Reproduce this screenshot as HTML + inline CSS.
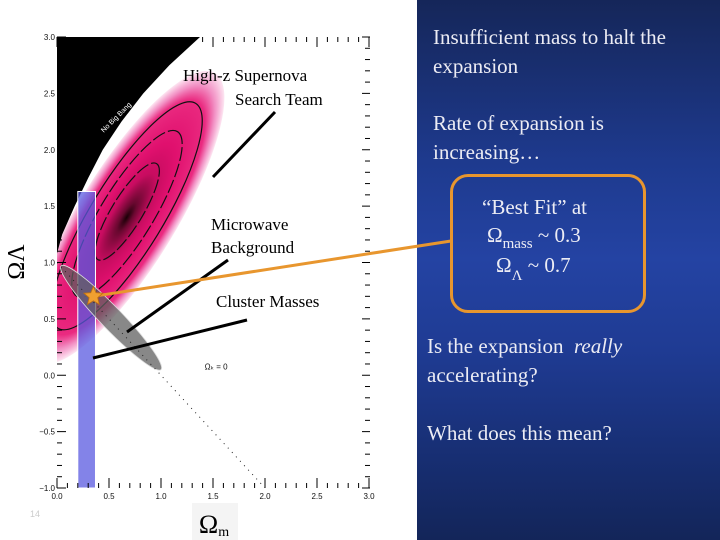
<!DOCTYPE html>
<html><head><meta charset="utf-8"><style>
html,body{margin:0;padding:0;background:#fff;}
#root{position:relative;width:720px;height:540px;overflow:hidden;background:#fff;font-family:"Liberation Serif",serif;}
#panel{position:absolute;left:417px;top:0;width:303px;height:540px;background:linear-gradient(180deg,#152659 0%,#1e3a8e 30%,#2443a3 48%,#1f3b93 65%,#172e72 85%,#132559 100%);}
.t{position:absolute;color:#ececf4;font-size:21px;line-height:29px;white-space:nowrap;}
#box{position:absolute;left:450px;top:174px;width:190px;height:133px;border:3px solid #e8962e;border-radius:18px;}
.bt{position:absolute;color:#ececf4;font-size:21px;white-space:nowrap;}
</style></head><body>
<div id="root">
<div id="panel"></div>
<svg id="chart" width="720" height="540" style="position:absolute;left:0;top:0">
<defs>
<radialGradient id="sn" cx="0.5" cy="0.5" r="0.5">
<stop offset="0" stop-color="#1a0006"/>
<stop offset="0.1" stop-color="#6a0830"/>
<stop offset="0.3" stop-color="#c80c60"/>
<stop offset="0.5" stop-color="#e0106e"/>
<stop offset="0.8" stop-color="#ea2a80"/>
<stop offset="0.9" stop-color="#f290c4"/>
<stop offset="1" stop-color="#fde6f2"/>
</radialGradient>
<clipPath id="plotclip"><rect x="57" y="37" width="312" height="451"/></clipPath>
</defs>
<g id="g-plot" clip-path="url(#plotclip)"></g>
<g id="g-axes"></g>
<g id="g-over"></g>
</svg>
<div class="t" style="left:433px;top:23px">Insufficient mass to halt the<br>expansion</div>
<div class="t" style="left:433px;top:109px">Rate of expansion is<br>increasing…</div>
<div id="box"></div>
<div class="bt" style="left:482px;top:195px">“Best Fit” at</div>
<div class="bt" style="left:487px;top:223px">Ω<span style="font-size:15px;position:relative;top:6px">mass</span> ~ 0.3</div>
<div class="bt" style="left:496px;top:253px">Ω<span style="font-size:15px;position:relative;top:8px">Λ</span> ~ 0.7</div>
<div class="t" style="left:427px;top:332px">Is the expansion &nbsp;<i>really</i><br>accelerating?</div>
<div class="t" style="left:427px;top:419px">What does this mean?</div>
</div>
<script>
const xTicks=[0,0.5,1.0,1.5,2.0,2.5,3.0];
const xTickLabels=["0.0","0.5","1.0","1.5","2.0","2.5","3.0"];
const yTicks=[-1,-0.5,0,0.5,1,1.5,2,2.5,3];
const yTickLabels=["\u22121.0","\u22120.5","0.0","0.5","1.0","1.5","2.0","2.5","3.0"];
const blackBoundaryOm=[0,0.05,0.17,0.3,0.44,0.62,0.83,1.08,1.375];
const blackBoundaryOl=[1.08,1.25,1.5,1.75,2.0,2.25,2.5,2.75,3.0];
const snCenter=[0.67,1.40];
const snEnds=[[-0.18,0.12],[1.52,2.68]];
const snHalfWidth=[0.47];
const contourScales=[0.35,0.6,0.82];
const cmbEnds=[[0.04,0.97],[1.0,0.05]];
const clusterOm=[0.2,0.37];
const clusterOl=[-1.0,1.63];
const bestFit=[0.35,0.7];
const flatLineOm=[0,2.0];
const flatLineOl=[1,-1];

const X=v=>57+v*104, Y=v=>37+(3-v)*112.75;
const NS='http://www.w3.org/2000/svg';
const SANS='font-family:"Liberation Sans",sans-serif';
const SERIF='font-family:"Liberation Serif",serif';
function mk(tag,attrs,parent){const e=document.createElementNS(NS,tag);for(const k in attrs)e.setAttribute(k,attrs[k]);parent.appendChild(e);return e;}
const gp=document.getElementById('g-plot'),ga=document.getElementById('g-axes'),go=document.getElementById('g-over');

const ex1=X(snEnds[0][0]),ey1=Y(snEnds[0][1]),ex2=X(snEnds[1][0]),ey2=Y(snEnds[1][1]);
const cx=X(snCenter[0]),cy=Y(snCenter[1]);
const ang=Math.atan2(ey2-ey1,ex2-ex1)*180/Math.PI;
const rx=Math.hypot(ex2-ex1,ey2-ey1)/2, ry=snHalfWidth[0]*104;
const sn=mk('ellipse',{cx:cx,cy:cy,rx:rx,ry:ry,fill:'url(#sn)',transform:`rotate(${ang} ${cx} ${cy})`},gp);


contourScales.forEach(s=>{
  const c=mk('ellipse',{cx:cx+(1-s)*8,cy:cy-(1-s)*4,rx:rx*s*0.95,ry:ry*s*0.9,fill:'none',stroke:'#111','stroke-width':1.2,'stroke-dasharray':s>0.7?'none':'14 3',transform:`rotate(${ang} ${cx} ${cy})`},gp);
  
  
});
let d=`M${X(0)},${Y(3)} `;
blackBoundaryOm.forEach((m,i)=>{d+=`L${X(m)},${Y(blackBoundaryOl[i])} `;});
d+='Z';
const bl=mk('path',{d:d,fill:'#000'},gp);


mk('text',{x:X(0.45),y:Y(2.15),fill:'#fff','font-size':7,style:SANS,transform:`rotate(-45 ${X(0.45)} ${Y(2.15)})`},gp).textContent='No Big Bang';
const cb=mk('rect',{x:X(clusterOm[0]),y:Y(clusterOl[1]),width:X(clusterOm[1])-X(clusterOm[0]),height:Y(clusterOl[0])-Y(clusterOl[1]),fill:'#5a5ae0','fill-opacity':0.75,stroke:'#fff','stroke-width':1},gp);


const c1x=X(cmbEnds[0][0]),c1y=Y(cmbEnds[0][1]),c2x=X(cmbEnds[1][0]),c2y=Y(cmbEnds[1][1]);
const ccx=(c1x+c2x)/2,ccy=(c1y+c2y)/2,cang=Math.atan2(c2y-c1y,c2x-c1x)*180/Math.PI;
const cmb=mk('ellipse',{cx:ccx,cy:ccy,rx:Math.hypot(c2x-c1x,c2y-c1y)/2,ry:11,fill:'#606060','fill-opacity':0.75,stroke:'#ddd','stroke-width':0.8,transform:`rotate(${cang} ${ccx} ${ccy})`},gp);


const fl=mk('line',{x1:X(flatLineOm[0]),y1:Y(flatLineOl[0]),x2:X(flatLineOm[1]),y2:Y(flatLineOl[1]),stroke:'#222','stroke-width':1,'stroke-dasharray':'1 5'},gp);


mk('text',{x:X(1.42),y:Y(0.05),'font-size':8,fill:'#111',style:SANS},gp).textContent='Ω\u2096 = 0';

xTicks.forEach((v,i)=>{
  mk('line',{x1:X(v),y1:488,x2:X(v),y2:478,stroke:'#000','stroke-width':1},ga);
  mk('line',{x1:X(v),y1:37,x2:X(v),y2:47,stroke:'#000','stroke-width':1},ga);
  const t=mk('text',{x:X(v),y:499,'font-size':8,'text-anchor':'middle',fill:'#111',style:SANS},ga);
  t.textContent=xTickLabels[i];
  
  
});
for(let v=0.1;v<3;v+=0.1){mk('line',{x1:X(v),y1:488,x2:X(v),y2:483,stroke:'#000','stroke-width':1},ga);mk('line',{x1:X(v),y1:37,x2:X(v),y2:42,stroke:'#000','stroke-width':1},ga);}
yTicks.forEach((v,i)=>{
  mk('line',{x1:57,y1:Y(v),x2:66,y2:Y(v),stroke:'#000','stroke-width':1},ga);
  mk('line',{x1:362,y1:Y(v),x2:370,y2:Y(v),stroke:'#000','stroke-width':1},ga);
  const t=mk('text',{x:55,y:Y(v)+3,'font-size':8,'text-anchor':'end',fill:'#111',style:SANS},ga);
  t.textContent=yTickLabels[i];
  
  
});
for(let v=-0.9;v<3;v+=0.1){if(Math.abs(v*2-Math.round(v*2))>0.01){mk('line',{x1:57,y1:Y(v),x2:62,y2:Y(v),stroke:'#000','stroke-width':1},ga);mk('line',{x1:365,y1:Y(v),x2:370,y2:Y(v),stroke:'#000','stroke-width':1},ga);}}
mk('rect',{x:192,y:503,width:46,height:37,fill:'#f4f4f4'},ga);
const xl=mk('text',{x:214,y:533,'font-size':26,style:SERIF,fill:'#000','text-anchor':'middle'},ga);
xl.innerHTML='Ω<tspan font-size="14" dy="3">m</tspan>';


const yl=mk('text',{x:24,y:262,'font-size':24,style:SERIF,fill:'#000','text-anchor':'middle',transform:'rotate(-90 24 262)'},ga);
yl.textContent='ΩΛ';


mk('text',{x:30,y:517,'font-size':9,fill:'#ccc',style:SANS},ga).textContent='14';

const lines=[[275,112,213,177],[228,260,127,332],[247,320,93,358]];
lines.forEach(l=>{const e=mk('line',{x1:l[0],y1:l[1],x2:l[2],y2:l[3],stroke:'#000','stroke-width':3},go);});
const sx=X(bestFit[0]),sy=Y(bestFit[1]);
const ol=mk('line',{x1:sx,y1:sy,x2:451,y2:241,stroke:'#e8962e','stroke-width':3},go);


let sp='';for(let i=0;i<10;i++){const r=i%2?4.5:10,a=-Math.PI/2+i*Math.PI/5;sp+=(sx+r*Math.cos(a)).toFixed(1)+','+(sy+r*Math.sin(a)).toFixed(1)+' ';}
const st=mk('polygon',{points:sp,fill:'#f0a030',stroke:'#c07010','stroke-width':0.8},go);


const labs=[[183,81,'High-z Supernova','label-supernova'],[235,105,'Search Team','label-search-team'],[211,230,'Microwave','label-microwave'],[211,253,'Background','label-background'],[216,307,'Cluster Masses','label-cluster-masses']];
labs.forEach(l=>{const t=mk('text',{x:l[0],y:l[1],'font-size':17,style:SERIF,fill:'#000'},go);t.textContent=l[2];});
</script>
</body></html>
